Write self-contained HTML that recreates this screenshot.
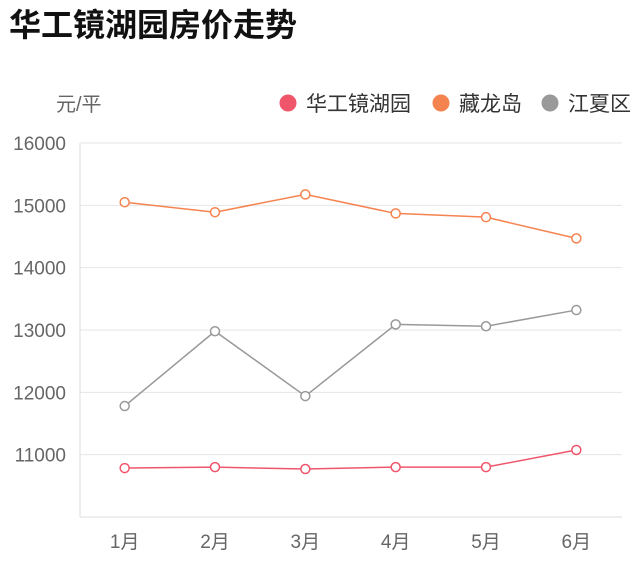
<!DOCTYPE html>
<html><head><meta charset="utf-8"><style>
body{margin:0;background:#fff;width:640px;height:570px;overflow:hidden;font-family:"Liberation Sans","Noto Sans CJK SC",sans-serif}
</style></head><body>
<svg width="640" height="570" font-family="Liberation Sans, Noto Sans CJK SC, sans-serif">
<text x="9" y="36" font-size="32" font-weight="bold" fill="#111">华工镜湖园房价走势</text>
<text x="56" y="111" font-size="20" fill="#666">元/平</text>
<g id="legend"></g>
<g id="grid"></g>
<g id="series"></g>
</svg>
<script>
const categories=["1月","2月","3月","4月","5月","6月"];
const yTicks=[11000,12000,13000,14000,15000,16000];
const seriesNames=["华工镜湖园","藏龙岛","江夏区"];
const seriesColors=["#f0566b","#f5834f","#999999"];
const hgValues=[10785,10800,10770,10800,10800,11075];
const clValues=[15050,14890,15175,14870,14810,14470];
const jxValues=[11780,12980,11940,13090,13060,13320];
const allSeries=[hgValues,clValues,jxValues];
const NS="http://www.w3.org/2000/svg";
const L=80,R=622,T=143,B=517,yMin=10000,yMax=16000;
const y=v=>B-(v-yMin)/(yMax-yMin)*(B-T);
const step=(R-L)/categories.length;
const x=i=>L+step*(i+0.5)-0.5;
function mk(tag,attrs,parent){const e=document.createElementNS(NS,tag);for(const k in attrs)e.setAttribute(k,attrs[k]);parent.appendChild(e);return e;}
const grid=document.getElementById('grid');
yTicks.forEach(v=>{
 const l=mk('line',{x1:L,x2:R,y1:y(v),y2:y(v),stroke:'#e6e6e6','stroke-width':1},grid);
 
 
 const t=mk('text',{x:66,y:y(v)+7,'text-anchor':'end','font-size':19,fill:'#666'},grid);
 t.textContent=v;
 
 
});
const ax=mk('line',{x1:L,x2:L,y1:T,y2:B,stroke:'#ddd'},grid);


const bx=mk('line',{x1:L,x2:R,y1:B,y2:B,stroke:'#ddd'},grid);


categories.forEach((c,i)=>{
 const t=mk('text',{x:x(i),y:548,'text-anchor':'middle','font-size':19,fill:'#666'},grid);
 t.textContent=c;
 
 
});
const sg=document.getElementById('series');
allSeries.forEach((vals,s)=>{
 const p=mk('polyline',{points:vals.map((v,i)=>x(i)+','+y(v)).join(' '),fill:'none',stroke:seriesColors[s],'stroke-width':1.5},sg);
 
 
 vals.forEach((v,i)=>{
  const c=mk('circle',{cx:x(i),cy:y(v),r:4.5,fill:'#fff',stroke:seriesColors[s],'stroke-width':1.5},sg);
  
  
 });
});
const lg=document.getElementById('legend');
const lx=[288,441,550];
seriesNames.forEach((n,s)=>{
 const c=mk('circle',{cx:lx[s],cy:103,r:8.5,fill:seriesColors[s]},lg);
 
 
 const t=mk('text',{x:lx[s]+18,y:111,'font-size':21,fill:'#333'},lg);
 t.textContent=n;
 
 
});
</script>
</body></html>
